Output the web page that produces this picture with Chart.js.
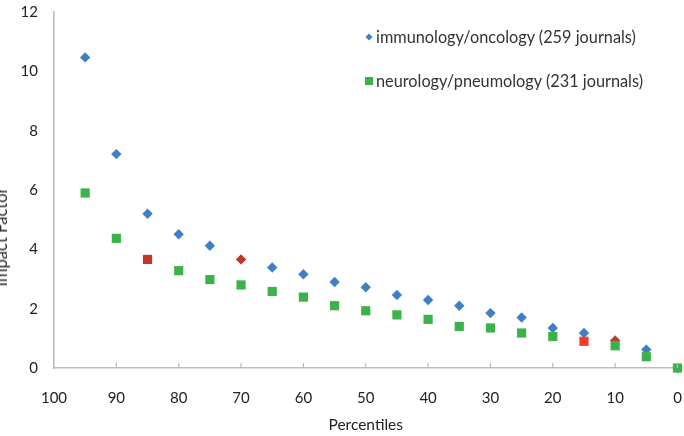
<!DOCTYPE html>
<html>
<head>
<meta charset="utf-8">
<script src="https://cdn.jsdelivr.net/npm/chart.js@4/dist/chart.umd.min.js"></script>
<style>
  html, body { margin: 0; padding: 0; background: #fff; overflow: hidden; width: 684px; height: 436px; }
  #wrap { position: absolute; left: 0; top: 0; width: 684px; height: 436px; }
  .legend { position: absolute; font-family: Lato, sans-serif; font-size: 16.3px; color: #333; white-space: nowrap; line-height: 18px; }
  .legend .mk { position: absolute; left: -7px; top: 50%; }
  .dia { width: 5px; height: 5px; background: #3f7fc6; transform: translate(-50%, -50%) rotate(45deg); }
  .sq { width: 8px; height: 8px; background: #3cb34a; transform: translate(-50%, -50%); }
  #ytitle { position: absolute; left: 1px; top: 237px; font-family: Lato, sans-serif; font-size: 16.5px; line-height: 20px; color: #2a2a2a; white-space: nowrap; transform: translate(-50%, -50%) rotate(-90deg); }
</style>
</head>
<body>
<div id="wrap"><canvas id="c" width="684" height="436"></canvas></div>
<div class="legend" style="left:376px; top:28px;"><span class="mk dia"></span>immunology/oncology (259 journals)</div>
<div class="legend" style="left:376px; top:72px;"><span class="mk sq"></span>neurology/pneumology (231 journals)</div>
<div id="ytitle">Impact Factor</div>
<script>
const percentiles = [95, 90, 85, 80, 75, 70, 65, 60, 55, 50, 45, 40, 35, 30, 25, 20, 15, 10, 5, 0];
const immunologyOncology = [10.47, 7.21, 5.20, 4.51, 4.12, 3.66, 3.39, 3.16, 2.90, 2.72, 2.46, 2.29, 2.10, 1.85, 1.70, 1.35, 1.18, 0.93, 0.62, 0];
const neurologyPneumology = [5.90, 4.37, 3.66, 3.28, 2.98, 2.80, 2.58, 2.39, 2.10, 1.93, 1.79, 1.64, 1.40, 1.35, 1.18, 1.06, 0.90, 0.75, 0.38, 0];
const xTicks = [100, 90, 80, 70, 60, 50, 40, 30, 20, 10, 0];
const yTicks = [0, 2, 4, 6, 8, 10, 12];
const seriesNames = ['immunology/oncology (259 journals)', 'neurology/pneumology (231 journals)'];

const BLUE = '#3f7fc6', GREEN = '#3cb34a';
const immunoColors = percentiles.map(p => p === 70 ? '#c2352c' : p === 10 ? '#b5403a' : BLUE);
const neuroColors = percentiles.map(p => p === 85 ? '#c8342a' : p === 15 ? '#f03d26' : GREEN);

Chart.defaults.font.family = 'Lato, sans-serif';
Chart.defaults.color = '#333';

const insideTicks = {
  id: 'insideTicks',
  afterDraw(chart) {
    const xs = chart.scales.x, ys = chart.scales.y;
    const ctx = chart.ctx;
    const y0 = ys.getPixelForValue(0);
    ctx.save();
    ctx.strokeStyle = '#b8b8b8';
    ctx.lineWidth = 1.2;
    xTicks.forEach(v => {
      if (v === 100) return;
      const px = xs.getPixelForValue(v);
      ctx.beginPath();
      ctx.moveTo(px, y0);
      ctx.lineTo(px, y0 - 5);
      ctx.stroke();
    });
    ctx.restore();
  }
};

new Chart(document.getElementById('c'), {
  type: 'scatter',
  data: {
    datasets: [
      {
        label: seriesNames[0],
        data: percentiles.map((p, i) => ({ x: p, y: immunologyOncology[i] })),
        pointStyle: 'rectRot',
        pointRadius: 5.2,
        pointBackgroundColor: immunoColors,
        pointBorderColor: immunoColors,
        pointBorderWidth: 0,
        order: 2,
        clip: false
      },
      {
        label: seriesNames[1],
        data: percentiles.map((p, i) => ({ x: p, y: neurologyPneumology[i] })),
        pointStyle: 'rect',
        pointRadius: 6.5,
        pointBackgroundColor: neuroColors,
        pointBorderColor: neuroColors,
        pointBorderWidth: 0,
        order: 1,
        clip: false
      }
    ]
  },
  options: {
    responsive: false,
    animation: false,
    devicePixelRatio: 1,
    layout: { padding: { top: 12, right: 6, bottom: 0, left: 0 } },
    plugins: { legend: { display: false }, tooltip: { enabled: false } },
    scales: {
      x: {
        type: 'linear',
        reverse: true,
        min: 0, max: 100,
        afterBuildTicks: s => { s.ticks = xTicks.map(v => ({ value: v })); },
        afterFit: s => { s.height = 68; s.paddingLeft = 0; s.paddingRight = 0; },
        grid: { display: false, drawTicks: false },
        border: { display: true, color: '#bdbdbd', width: 1.6 },
        ticks: { padding: 21, font: { size: 15 }, color: '#222', maxRotation: 0 },
        title: { display: true, text: 'Percentiles', font: { size: 15.5 }, color: '#222', padding: { top: 0, bottom: 2 } }
      },
      y: {
        min: 0, max: 12,
        afterBuildTicks: s => { s.ticks = yTicks.map(v => ({ value: v })); },
        afterFit: s => { s.width = 54; s.paddingTop = 0; s.paddingBottom = 0; },
        grid: { display: false, drawTicks: false },
        border: { display: true, color: '#bdbdbd', width: 1.6 },
        ticks: { padding: 16, font: { size: 15 }, color: '#222' },
        title: { display: false }
      }
    }
  },
  plugins: [insideTicks]
});
</script>
</body>
</html>
